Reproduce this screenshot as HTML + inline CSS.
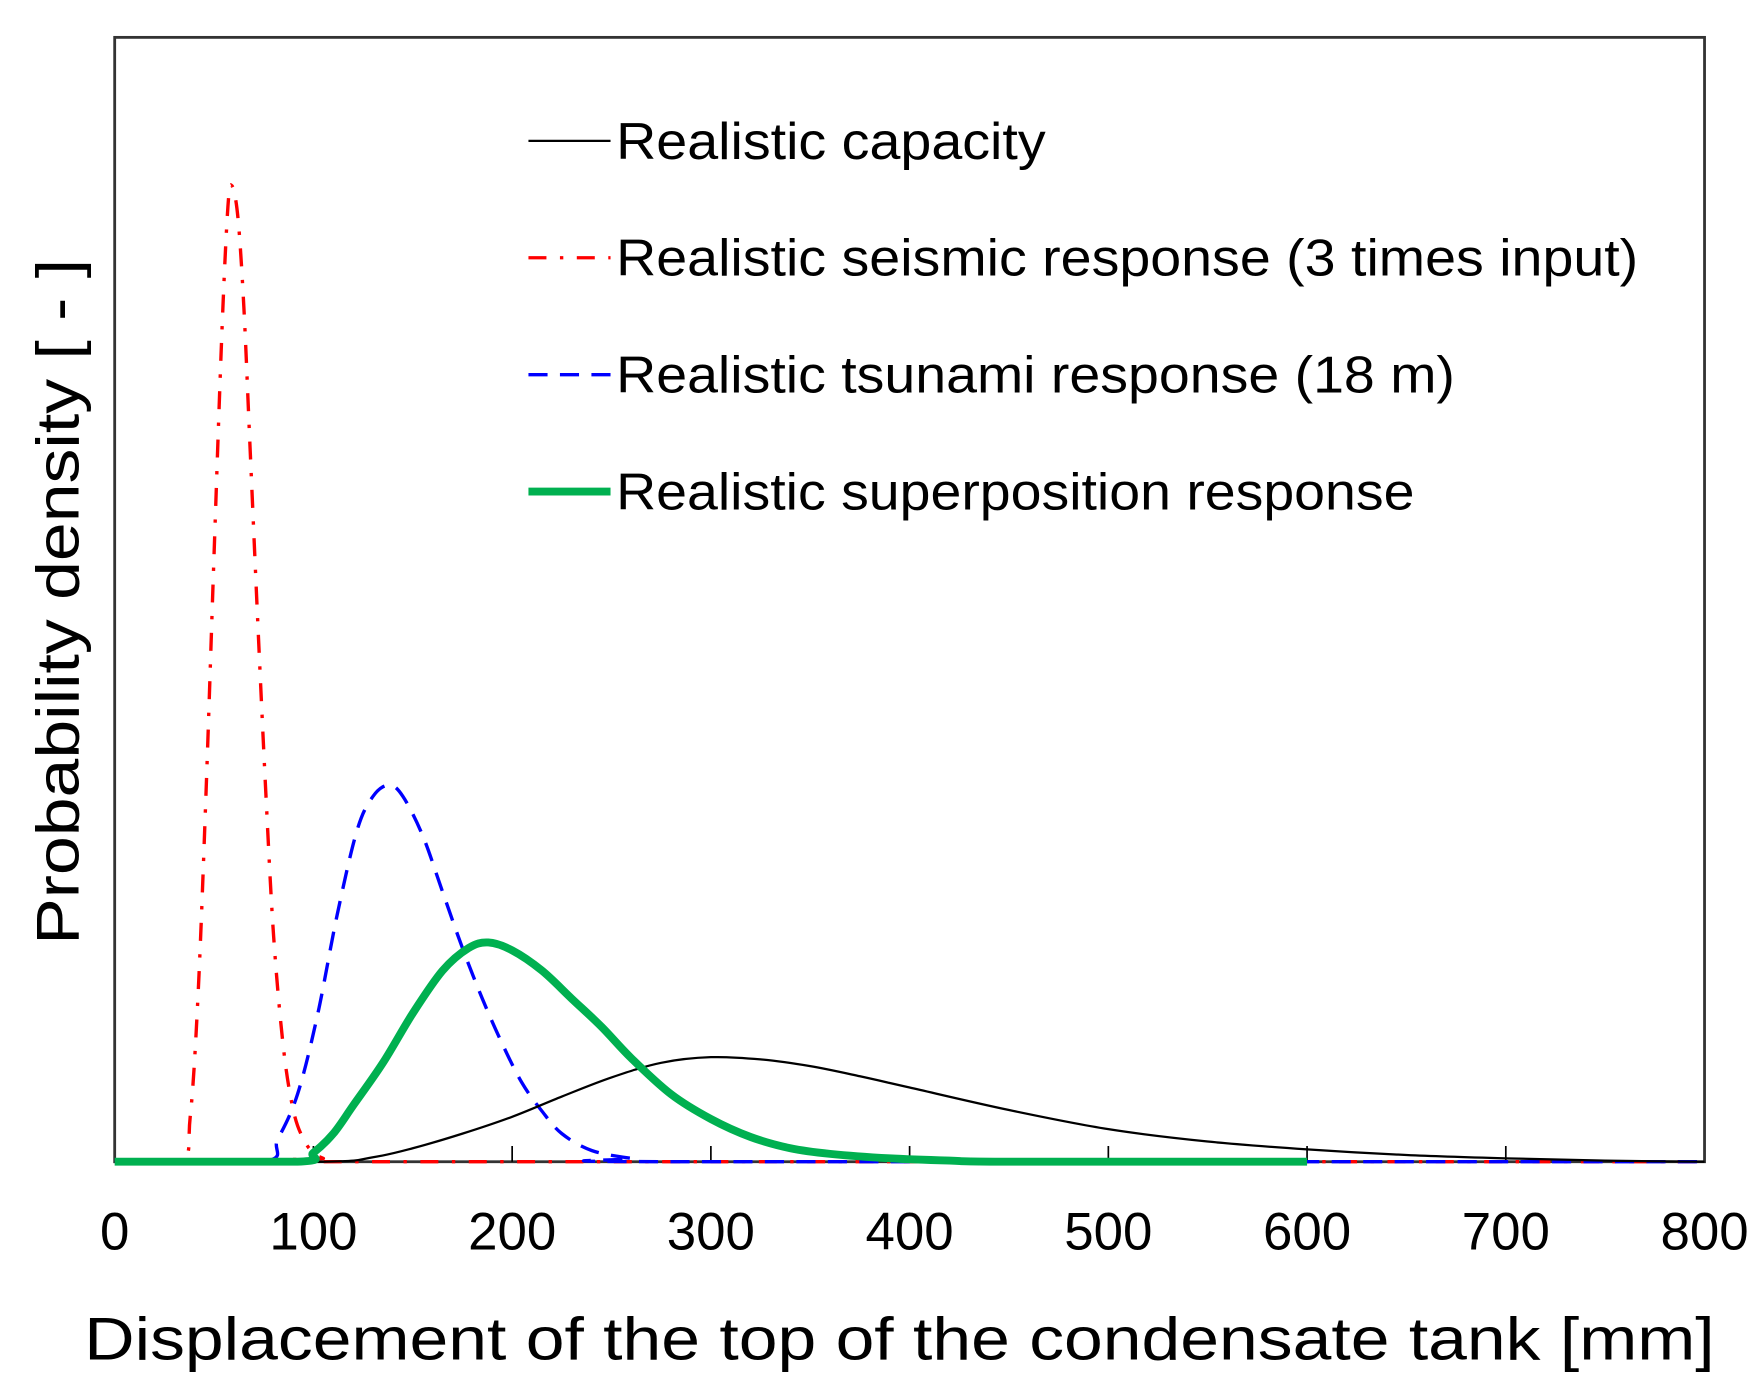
<!DOCTYPE html>
<html><head><meta charset="utf-8"><style>
html,body{margin:0;padding:0;background:#fff}
svg{display:block}
text{font-family:"Liberation Sans",Arial,sans-serif;fill:#000}
</style></head><body>
<svg id="chart" width="1763" height="1397" viewBox="0 0 1568 1242" xmlns="http://www.w3.org/2000/svg">
<rect x="102" y="33" width="1414" height="1000" fill="none" stroke="#333" stroke-width="2.5"/>
<g id="ticks"></g>
<g id="curves"></g>
<text x="800" y="1209" font-size="54" text-anchor="middle" textLength="1450" lengthAdjust="spacingAndGlyphs">Displacement of the top of the condensate tank [mm]</text>
<text transform="translate(70,535) rotate(-90)" font-size="54" text-anchor="middle" textLength="610" lengthAdjust="spacingAndGlyphs">Probability density [ - ]</text>
<g>
<g>
<line x1="470" y1="125" x2="543" y2="125" stroke="#000" stroke-width="2"/>
<text x="548" y="141" font-size="46" textLength="382" lengthAdjust="spacingAndGlyphs">Realistic capacity</text></g>
<g>
<line x1="470" y1="229" x2="543" y2="229" stroke="#f00" stroke-width="3" stroke-dasharray="16,12,3,12"/>
<text x="548" y="245" font-size="46" textLength="909" lengthAdjust="spacingAndGlyphs">Realistic seismic response (3 times input)</text></g>
<g>
<line x1="470" y1="333" x2="543" y2="333" stroke="#00f" stroke-width="3" stroke-dasharray="17,11"/>
<text x="548" y="349" font-size="46" textLength="746" lengthAdjust="spacingAndGlyphs">Realistic tsunami response (18 m)</text></g>
<g>
<line x1="470" y1="437" x2="543" y2="437" stroke="#00b050" stroke-width="7"/>
<text x="548" y="453" font-size="46" textLength="710" lengthAdjust="spacingAndGlyphs">Realistic superposition response</text></g>
</g>
</svg>
<script>
const xTicks=[0,100,200,300,400,500,600,700,800];
const capX=[0,105,130,150,175,200,225,250,275,300,325,350,375,400,450,500,550,600,650,700,750,800];
const capY=[0,0,4,12,25,40,58,75,88,93,91,85,76,66,46,29,18,11,6,3,1,0];
const seisX=[0,33,38,42,46,50,54,57,59,62,65,68,72,76,80,85,90,95,100,105,110,800];
const seisY=[0,0,40,150,330,540,740,850,868,840,760,640,480,330,200,100,45,20,8,3,0,0];
const tsuX=[0,74,82,92,102,112,122,130,138,145,155,165,175,185,195,205,215,225,240,260,280,800];
const tsuY=[0,0,20,60,130,220,295,325,335,325,290,240,190,145,105,70,45,25,10,3,0,0];
const supX=[0,92,100,110,120,135,150,165,178,188,200,215,230,245,260,280,300,320,340,360,390,420,450,600];
const supY=[0,0,8,25,50,88,132,170,190,195,188,170,145,120,92,60,38,22,12,7,3,1,0,0];
const X0=102,X1=1516,Y0=1033,Y1=33;
const sx=v=>X0+(v/800)*(X1-X0);
const sy=v=>Y0-(v/1000)*(Y0-Y1);
const NS='http://www.w3.org/2000/svg';
const tg=document.getElementById('ticks');
xTicks.forEach(t=>{
 if(t>0&&t<800){const l=document.createElementNS(NS,'line');
 l.setAttribute('x1',sx(t));l.setAttribute('x2',sx(t));l.setAttribute('y1',Y0);l.setAttribute('y2',Y0-14);
 l.setAttribute('stroke','#000');l.setAttribute('stroke-width','1.5');
 
 
 tg.appendChild(l);}
 const tx=document.createElementNS(NS,'text');
 tx.setAttribute('x',sx(t));tx.setAttribute('y',1111);tx.setAttribute('font-size','47');tx.setAttribute('text-anchor','middle');
 tx.textContent=t;
 
 
 tg.appendChild(tx);
});
function path(xs,ys){
 const p=xs.map((x,i)=>[sx(x),sy(ys[i])]);
 let d='M'+p[0][0]+','+p[0][1];
 for(let i=0;i<p.length-1;i++){
  const a=p[Math.max(0,i-1)],b=p[i],c=p[i+1],e=p[Math.min(p.length-1,i+2)];
  const c1=[b[0]+(c[0]-a[0])/6,b[1]+(c[1]-a[1])/6],c2=[c[0]-(e[0]-b[0])/6,c[1]-(e[1]-b[1])/6];
  c1[1]=Math.min(c1[1],Y0);c2[1]=Math.min(c2[1],Y0);
  d+=' C'+c1+' '+c2+' '+c;
 }
 return d;
}
const cg=document.getElementById('curves');
function add(xs,ys,color,w,dash,name){
 const el=document.createElementNS(NS,'path');
 el.setAttribute('d',path(xs,ys));el.setAttribute('fill','none');el.setAttribute('stroke',color);
 el.setAttribute('stroke-width',w);if(dash)el.setAttribute('stroke-dasharray',dash);
 
 
 cg.appendChild(el);
}
add(seisX,seisY,'#f00',3,'16,12,3,12','seismic-response-curve');
add(tsuX,tsuY,'#00f',3,'17,11','tsunami-response-curve');
add(capX,capY,'#000',2,null,'capacity-curve');
add(supX,supY,'#00b050',7,null,'superposition-response-curve');
</script>
</body></html>
